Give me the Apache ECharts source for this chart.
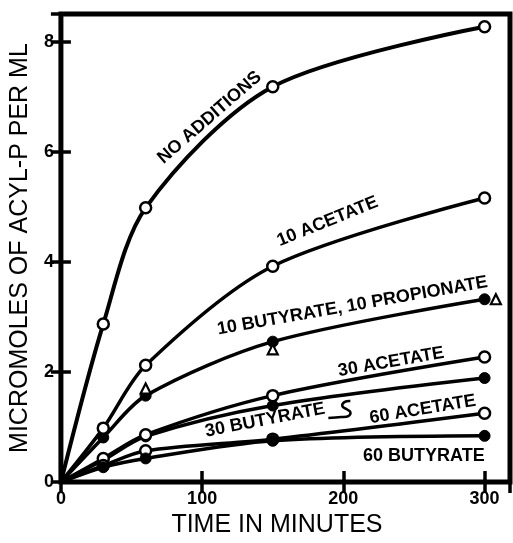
<!DOCTYPE html>
<html>
<head>
<meta charset="utf-8">
<script src="https://cdn.jsdelivr.net/npm/echarts@6/dist/echarts.min.js"></script>
<style>html,body{margin:0;padding:0;background:#fff}#c{width:513px;height:543px}</style>
</head>
<body>
<div id="c"></div>
<script>
// ---- data ----
const times = [0, 30, 60, 150, 300];
const noAdditions = [0, 2.87, 4.98, 7.18, 8.27];
const acetate10 = [0, 0.98, 2.12, 3.92, 5.16];
const butyrate10 = [0, 0.81, 1.57, 2.55, 3.32];
const propionateTimes = [60, 150, 308];
const propionate10 = [1.70, 2.41, 3.32];
const acetate30 = [0, 0.43, 0.86, 1.57, 2.27];
const butyrate30 = [0, 0.40, 0.83, 1.39, 1.89];
const acetate60 = [0, 0.30, 0.57, 0.78, 1.25];
const butyrate60 = [0, 0.27, 0.43, 0.75, 0.84];

const xTicks = [0, 100, 200, 300];
const yTicks = [0, 2, 4, 6, 8];

// curve labels: text, data x, data y, rotation (deg)
const labelTexts = ['NO ADDITIONS', '10 ACETATE', '10 BUTYRATE, 10 PROPIONATE', '30 ACETATE', '30 BUTYRATE', '60 ACETATE', '60 BUTYRATE'];
const labelX = [105.3, 188.8, 206.4, 233.8, 144.6, 256.2, 257];
const labelY = [6.62, 4.73, 3.20, 2.18, 1.125, 1.32, 0.48];
const labelRot = [41, 22, 10, 10, 11, 9.5, 0];

const FONT = '"Liberation Sans", Arial, sans-serif';

function mk(xs, ys) {
  return xs.map((x, i) => (x === 0 ? { value: [x, ys[i]], symbol: 'none' } : [x, ys[i]]));
}
function lineSeries(name, ys, open, z, w) {
  return {
    name, type: 'line', smooth: 0.3, data: mk(times, ys),
    symbol: 'circle', symbolSize: 11, z: z || 2,
    lineStyle: { color: '#000', width: w || 3.5 },
    itemStyle: open ? { color: '#fff', borderColor: '#000', borderWidth: 2.5, opacity: 1 } : { color: '#000', borderColor: '#000', borderWidth: 1, opacity: 1 },
    emphasis: { disabled: true }, animation: false
  };
}

const chart = echarts.init(document.getElementById('c'), null, { renderer: 'canvas' });
const tickLabelFmt = (list) => (v) => (list.indexOf(v) >= 0 ? String(v) : '');

const axisCommon = {
  type: 'value', splitLine: { show: false }, axisLine: { show: false }
};

chart.setOption({
  animation: false,
  backgroundColor: '#fff',
  grid: { left: 57, right: 3, top: 14, bottom: 53, show: true, borderColor: '#000', borderWidth: 5, backgroundColor: 'transparent' },
  xAxis: [
    Object.assign({}, axisCommon, {
      position: 'bottom', min: 0, max: 318, interval: 100,
      axisTick: { inside: true, length: 11, lineStyle: { color: '#000', width: 3.5 } },
      axisLabel: { formatter: tickLabelFmt(xTicks), color: '#000', fontFamily: FONT, fontSize: 18, fontWeight: 'bold', margin: 8 },
      name: 'TIME IN MINUTES', nameLocation: 'middle', nameGap: 29,
      nameTextStyle: { color: '#000', fontFamily: FONT, fontSize: 25, padding: [0, 17, 0, 0] }
    }),
    Object.assign({}, axisCommon, {
      position: 'top', min: 0, max: 318, interval: 100,
      axisTick: { inside: true, length: 11, lineStyle: { color: '#000', width: 3.5 } },
      axisLabel: { show: false }
    })
  ],
  yAxis: [
    Object.assign({}, axisCommon, {
      position: 'left', min: 0, max: 8.5, interval: 2,
      axisTick: { inside: true, length: 10, lineStyle: { color: '#000', width: 3.5 } },
      axisLabel: { formatter: tickLabelFmt(yTicks), color: '#000', fontFamily: FONT, fontSize: 18, fontWeight: 'bold', margin: 7 },
      name: 'MICROMOLES OF ACYL-P PER ML', nameLocation: 'middle', nameGap: 20,
      nameTextStyle: { color: '#000', fontFamily: FONT, fontSize: 25, padding: [0, 0, 0, 0] }
    }),
    Object.assign({}, axisCommon, {
      position: 'right', min: 0, max: 8.5, interval: 2,
      axisTick: { inside: true, length: 10, lineStyle: { color: '#000', width: 3.5 } },
      axisLabel: { show: false }
    })
  ],
  series: [
    lineSeries('No additions', noAdditions, true, 3, 4),
    lineSeries('10 acetate', acetate10, true, 3),
    lineSeries('10 butyrate', butyrate10, false, 2),
    {
      name: '10 propionate', type: 'scatter', data: propionateTimes.map((x, i) => [x, propionate10[i]]),
      symbol: 'triangle', symbolSize: 10, z: 4,
      itemStyle: { color: '#fff', borderColor: '#000', borderWidth: 2.2, opacity: 1 }, emphasis: { disabled: true }
    },
    lineSeries('30 acetate', acetate30, true, 3),
    lineSeries('30 butyrate', butyrate30, false, 2),
    lineSeries('60 acetate', acetate60, true, 3),
    lineSeries('60 butyrate', butyrate60, false, 4)
  ]
});

// curve labels placed through the chart's own scale
const graphics = labelTexts.map((t, i) => {
  const p = chart.convertToPixel({ xAxisIndex: 0, yAxisIndex: 0 }, [labelX[i], labelY[i]]);
  return {
    type: 'text', x: p[0], y: p[1], rotation: labelRot[i] * Math.PI / 180, z: 10,
    style: { text: t, fill: '#000', font: 'bold 18px ' + FONT, textAlign: 'center', textVerticalAlign: 'middle' }
  };
});
// little hand-drawn pointer after "30 BUTYRATE"
const a = chart.convertToPixel({ xAxisIndex: 0, yAxisIndex: 0 }, [200, 1.18]);
const off = [[-15, 1], [-2, 0], [5, -1], [7, -5], [3, -8], [-1, -11], [1, -15], [7, -16]];
graphics.push({
  type: 'polyline', z: 10,
  shape: { points: off.map(o => [a[0] + o[0], a[1] + o[1]]), smooth: 0.4 },
  style: { stroke: '#000', lineWidth: 2.5, fill: null }
});
chart.setOption({ graphic: graphics });
</script>
</body>
</html>
